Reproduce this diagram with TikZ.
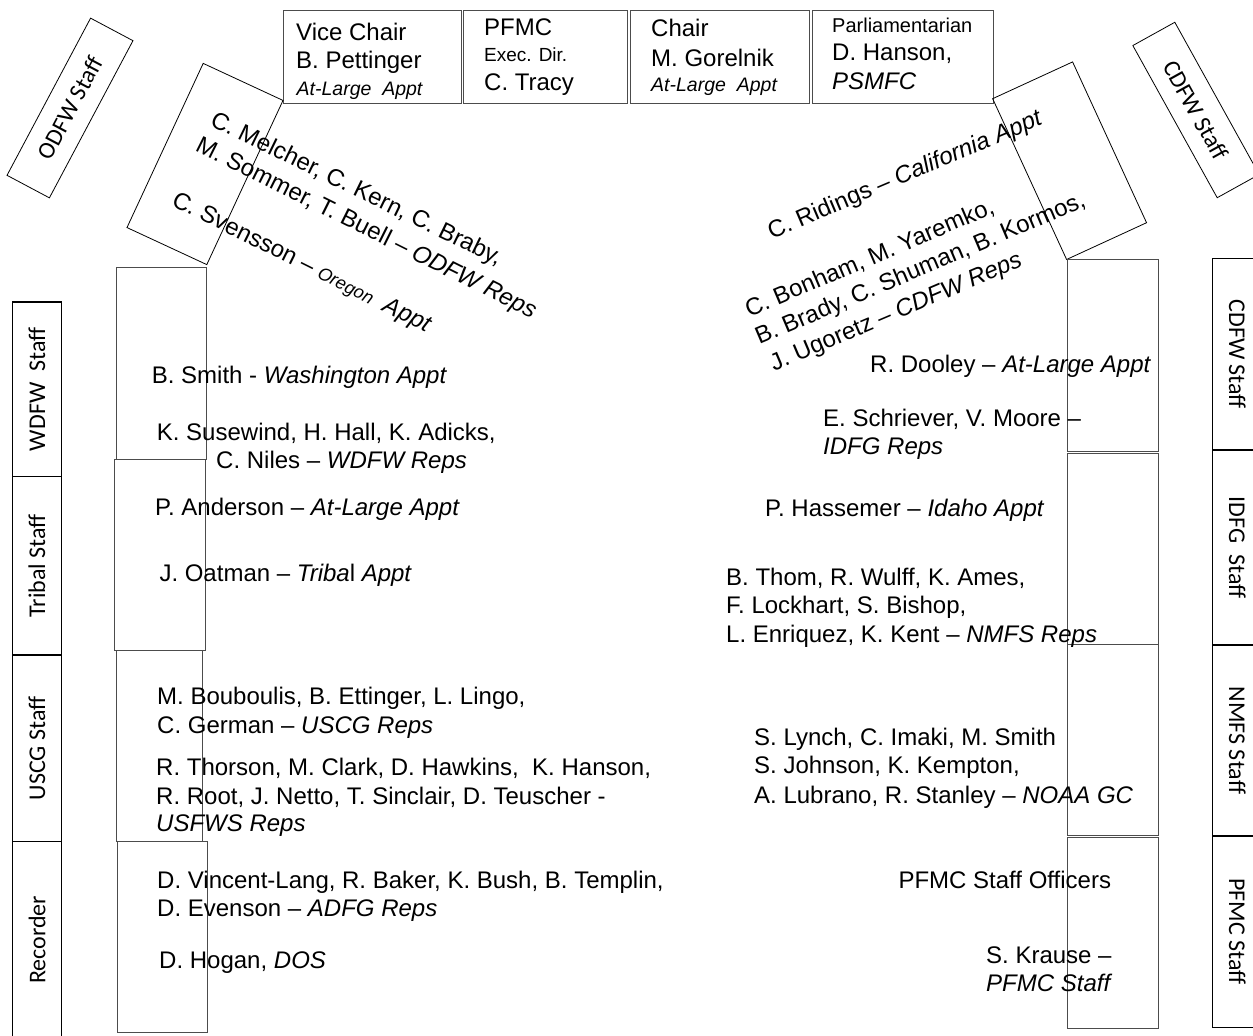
\documentclass[tikz,border=0pt]{standalone}
\usepackage{fontspec}
\setmainfont{Liberation Sans}
\newfontfamily\calib{Carlito}
\definecolor{boxgray}{gray}{0.3}
\begin{document}
\begin{tikzpicture}[x=1pt,y=1pt,
  txt/.style={anchor=base west, inner sep=0pt, font=\fontsize{24}{28}\selectfont},
  smalltxt/.style={anchor=base west, inner sep=0pt, font=\fontsize{19.5}{23}\selectfont},
  topbox/.style={draw=boxgray, line width=0.9pt, anchor=north west, inner sep=0pt, minimum height=93.5pt},
  colbox/.style={draw=boxgray, line width=0.9pt, anchor=north west, inner sep=0pt, minimum width=91pt},
  staffbox/.style={draw=black, line width=1.4pt, inner sep=0pt, minimum height=49.4pt, font=\calib\fontsize{24}{28}\selectfont},
  tiltbox/.style={draw=black, line width=0.8pt, inner sep=0pt}]
\clip (0,0) rectangle (1253,-1036);
\fill[white] (0,0) rectangle (1253,-1036);

% ---- top boxes
\node[topbox, minimum width=178pt] (vice) at (283,-9.5) {};
\node[topbox, minimum width=164pt] (pfmc) at (463,-9.5) {};
\node[topbox, minimum width=179pt] (chair) at (629.5,-9.5) {};
\node[topbox, minimum width=181pt] (parl) at (812,-9.5) {};

\node[txt] (t1) at (296,-40) {Vice Chair};
\node[txt] (t2) at (296,-68) {B. Pettinger};
\node[smalltxt] (t3) at (296.5,-95) {\itshape At-Large\ \ Appt};
\node[txt] (t4) at (484,-35) {PFMC};
\node[smalltxt, font=\fontsize{19}{23}\selectfont] (t5) at (484,-61.7) {Exec. Dir.};
\node[txt] (t6) at (484,-90) {C. Tracy};
\node[txt] (t7) at (651,-36.7) {Chair};
\node[txt] (t8) at (651,-66) {M. Gorelnik};
\node[smalltxt] (t9) at (651,-91.7) {\itshape At-Large\ \ Appt};
\node[smalltxt, font=\fontsize{20}{24}\selectfont] (t10) at (832,-32.7) {Parliamentarian};
\node[txt] (t11) at (832,-60.7) {D. Hanson,};
\node[txt] (t12) at (832,-89.3) {\itshape PSMFC};

% ---- rotated boxes
\node[tiltbox, rotate=62, minimum width=178pt, minimum height=48pt] (odfw) at (70,-108) {\calib\fontsize{24}{28}\selectfont ODFW Staff};
\node[tiltbox, rotate=-61, minimum width=174pt, minimum height=48pt] (cdfwtop) at (1196,-110) {\calib\fontsize{24}{28}\selectfont CDFW Staff};
\node[tiltbox, rotate=65.1, minimum width=181pt, minimum height=88pt] (orbox) at (205,-164) {};
\node[tiltbox, rotate=-65.3, minimum width=177pt, minimum height=88pt] (cabox) at (1069.6,-160.7) {};

% ---- rotated texts, Oregon side
\node[txt, rotate=-26] (o1) at (209,-125) {C. Melcher, C. Kern, C. Braby,};
\node[txt, rotate=-26.5] (o2) at (194.3,-150.5) {M. Sommer, T. Buell – \textit{ODFW Reps}};
\node[txt, rotate=-26.5] (o3) at (170.5,-205) {C. Svensson – {\itshape\fontsize{18}{22}\selectfont Oregon}\ \ \textit{Appt}};

% ---- rotated texts, California side
\node[txt, rotate=23] (c1) at (771.7,-239.3) {C. Ridings – \textit{California Appt}};
\node[txt, rotate=23] (c2) at (749.3,-317.3) {C. Bonham, M. Yaremko,};
\node[txt, rotate=23] (c3) at (759.3,-345) {B. Brady, C. Shuman, B. Kormos,};
\node[txt, rotate=23] (c4) at (774,-371.7) {J. Ugoretz – \textit{CDFW Reps}};

% ---- left column boxes
\node[colbox, minimum width=90.3pt, minimum height=192.3pt] (l1) at (115.7,-266.7) {};
\node[colbox, minimum width=90.7pt, minimum height=191pt] (l2) at (114.3,-459) {};
\node[colbox, minimum width=86.3pt, minimum height=191pt] (l3) at (115.7,-650) {};
\node[colbox, minimum width=90.3pt, minimum height=191pt] (l4) at (116.7,-841) {};

% ---- right column boxes
\node[colbox, minimum height=191.4pt] (r1) at (1067.3,-259.3) {};
\node[colbox, minimum height=191.3pt] (r2) at (1067.3,-452.7) {};
\node[colbox, minimum height=191pt] (r3) at (1067.3,-644) {};
\node[colbox, minimum height=191pt] (r4) at (1067.3,-837.3) {};

% ---- left staff boxes
\node[staffbox, rotate=90, minimum width=174.7pt] (wdfw) at (37,-389.3) {WDFW\ \ Staff};
\node[staffbox, rotate=90, minimum width=178.3pt] (tribal) at (37,-565.9) {Tribal Staff};
\node[staffbox, rotate=90, minimum width=186.7pt] (uscg) at (37,-748.4) {USCG Staff};
\node[staffbox, rotate=90, minimum width=196.3pt] (recorder) at (37,-939.9) {Recorder};

% ---- right staff boxes
\node[staffbox, rotate=-90, minimum width=191.7pt] (cdfw) at (1237.4,-354.2) {CDFW Staff};
\node[staffbox, rotate=-90, minimum width=195pt] (idfg) at (1237.4,-547.5) {IDFG\ \ Staff};
\node[staffbox, rotate=-90, minimum width=191pt] (nmfs) at (1237.4,-740.5) {NMFS Staff};
\node[staffbox, rotate=-90, minimum width=191.3pt] (pfmcs) at (1237.4,-931.7) {PFMC Staff};

% ---- left texts
\node[txt] (a1) at (151.7,-383.3) {B. Smith - \textit{Washington Appt}};
\node[txt] (a2) at (156.7,-440) {K. Susewind, H. Hall, K. Adicks,};
\node[txt] (a3) at (216,-468.3) {C. Niles – \textit{WDFW Reps}};
\node[txt] (a4) at (155,-515) {P. Anderson – \textit{At-Large Appt}};
\node[txt] (a5) at (159.3,-581.7) {J. Oatman – \textit{Triba}l \textit{Appt}};
\node[txt] (a6) at (157,-704) {M. Bouboulis, B. Ettinger, L. Lingo,};
\node[txt] (a7) at (157,-733.3) {C. German – \textit{USCG Reps}};
\node[txt] (a8) at (156,-775) {R. Thorson, M. Clark, D. Hawkins,\ \ K. Hanson,};
\node[txt] (a9) at (156,-804) {R. Root, J. Netto, T. Sinclair, D. Teuscher -};
\node[txt] (a10) at (156,-831.7) {\textit{USFWS Reps}};
\node[txt] (a11) at (157,-888.3) {D. Vincent-Lang, R. Baker, K. Bush, B. Templin,};
\node[txt] (a12) at (157,-916.7) {D. Evenson – \textit{ADFG Reps}};
\node[txt] (a13) at (159,-968.3) {D. Hogan, \textit{DOS}};

% ---- right texts
\node[txt] (b1) at (870,-372.7) {R. Dooley – \textit{At-Large Appt}};
\node[txt] (b2) at (823,-426) {E. Schriever, V. Moore –};
\node[txt] (b3) at (823,-454) {\textit{IDFG Reps}};
\node[txt] (b4) at (765,-516.7) {P. Hassemer – \textit{Idaho Appt}};
\node[txt] (b5) at (726,-585) {B. Thom, R. Wulff, K. Ames,};
\node[txt] (b6) at (726,-613.3) {F. Lockhart, S. Bishop,};
\node[txt] (b7) at (726,-642.3) {L. Enriquez, K. Kent – \textit{NMFS Reps}};
\node[txt] (b8) at (754,-745) {S. Lynch, C. Imaki, M. Smith};
\node[txt] (b9) at (754,-773.3) {S. Johnson, K. Kempton,};
\node[txt] (b10) at (754,-803.3) {A. Lubrano, R. Stanley – \textit{NOAA GC}};
\node[txt] (b11) at (898.3,-888.3) {PFMC Staff Officers};
\node[txt] (b12) at (986,-963.3) {S. Krause –};
\node[txt] (b13) at (986,-991.7) {\textit{PFMC Staff}};
\end{tikzpicture}
\end{document}
